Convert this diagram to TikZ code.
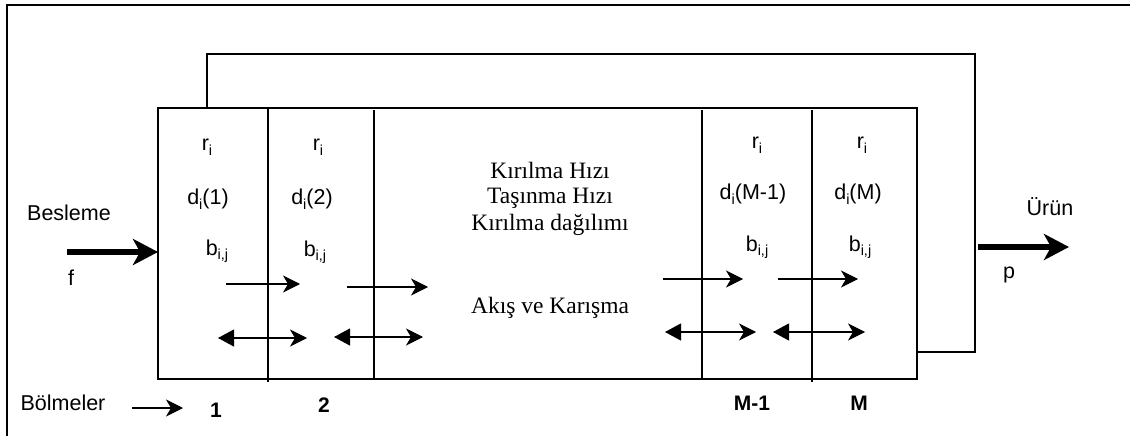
\documentclass[tikz,border=0pt]{standalone}
\usepackage{fontspec}
\setmainfont{Liberation Sans}
\newfontfamily\serifface{Liberation Serif}
\usetikzlibrary{arrows.meta}
\newcommand{\mysubs}[1]{\raisebox{-4.5pt}{\fontsize{14.5}{15}\selectfont #1}}
\begin{document}
\begin{tikzpicture}[x=1pt,y=-1pt,
  line width=1.3pt,
  lbl/.style={font=\fontsize{21.5}{25}\selectfont, inner sep=0pt},
  num/.style={font=\fontsize{21}{25}\selectfont\bfseries, inner sep=0pt},
  mid/.style={font=\fontsize{23.5}{28}\selectfont\serifface, inner sep=0pt, align=center},
  flow/.style={line width=1.1pt, -{Stealth[length=17pt,width=17pt,inset=5pt]}},
  mix/.style={line width=1.1pt, {Triangle[length=16pt,width=17pt]}-{Stealth[length=17pt,width=17pt,inset=5pt]}},
  thick arrow/.style={line width=5.5pt, -{Stealth[length=25pt,width=26pt,inset=7pt]}}]
\useasboundingbox (0,0) rectangle (1130,436);
% outer frame (top and left)
\draw[line width=2pt] (7,436) -- (7,5) -- (1130,5);
% main box
\coordinate (BL) at (158,379);
\coordinate (TR) at (917,108);
\draw (BL) rectangle (TR);
\draw (268,108) -- (268,382);
\draw (374,110) -- (374,379);
\draw (702,110) -- (702,379);
\draw (812,110) -- (812,382);
% recirculation
\coordinate (r0) at (207,108);
\coordinate (r1) at (207,54);
\coordinate (r2) at (975,54);
\coordinate (r3) at (975,352);
\coordinate (r4) at (917,352);
\draw (r0) -- (r1) -- (r2) -- (r3) -- (r4);
% feed and product
\coordinate (fin) at (67,252);
\coordinate (fbox) at (158,252);
\draw[thick arrow] (fin) -- (fbox);
\node[lbl] (besleme) at (69,213) {Besleme};
\node[lbl] (f) at (71,278) {f};
\coordinate (pout0) at (978,247);
\coordinate (pout1) at (1069,247);
\draw[thick arrow] (pout0) -- (pout1);
\node[lbl] (urun) at (1050,207) {Ürün};
\node[lbl] (p) at (1009,275) {p};
% cell texts
\node[lbl] (r1t) at (207,147) {r\mysubs{i}};
\node[lbl] (d1t) at (208,199) {d\mysubs{i}(1)};
\node[lbl] (b1t) at (217,251) {b\mysubs{i,j}};
\node[lbl] (r2t) at (318,147) {r\mysubs{i}};
\node[lbl] (d2t) at (312,199) {d\mysubs{i}(2)};
\node[lbl] (b2t) at (315,252) {b\mysubs{i,j}};
\node[lbl] (r3t) at (757,145) {r\mysubs{i}};
\node[lbl] (d3t) at (753,194) {d\mysubs{i}(M-1)};
\node[lbl] (b3t) at (757,247) {b\mysubs{i,j}};
\node[lbl] (r4t) at (862,145) {r\mysubs{i}};
\node[lbl] (d4t) at (858,194) {d\mysubs{i}(M)};
\node[lbl] (b4t) at (860,247) {b\mysubs{i,j}};
% middle texts
\node[mid] (k1) at (550,170) {Kırılma Hızı};
\node[mid] (k2) at (550,198) {Taşınma Hızı};
\node[mid] (k3) at (550,225) {Kırılma dağılımı};
\node[mid] (ak) at (550,308) {Akış ve Karışma};
% flow arrows
\coordinate (a1s) at (226,284); \coordinate (a1e) at (300,284);
\coordinate (a2s) at (347,287); \coordinate (a2e) at (428,287);
\coordinate (a3s) at (663,279); \coordinate (a3e) at (743,279);
\coordinate (a4s) at (778,279); \coordinate (a4e) at (858,279);
\draw[flow] (a1s) -- (a1e);
\draw[flow] (a2s) -- (a2e);
\draw[flow] (a3s) -- (a3e);
\draw[flow] (a4s) -- (a4e);
% mixing arrows
\coordinate (m1s) at (218,338); \coordinate (m1e) at (307,338);
\coordinate (m2s) at (334,337); \coordinate (m2e) at (423,337);
\coordinate (m3s) at (665,332); \coordinate (m3e) at (756,332);
\coordinate (m4s) at (773,332); \coordinate (m4e) at (865,332);
\draw[mix] (m1s) -- (m1e);
\draw[mix] (m2s) -- (m2e);
\draw[mix] (m3s) -- (m3e);
\draw[mix] (m4s) -- (m4e);
% bottom labels
\node[lbl] (bol) at (63,403) {Bölmeler};
\coordinate (bas) at (132,408);
\coordinate (bae) at (183,408);
\draw[flow] (bas) -- (bae);
\node[num] (n1) at (216,410) {1};
\node[num] (n2) at (324,405) {2};
\node[num] (nM1) at (752,403) {M-1};
\node[num] (nM) at (859,403) {M};
\end{tikzpicture}
\end{document}
